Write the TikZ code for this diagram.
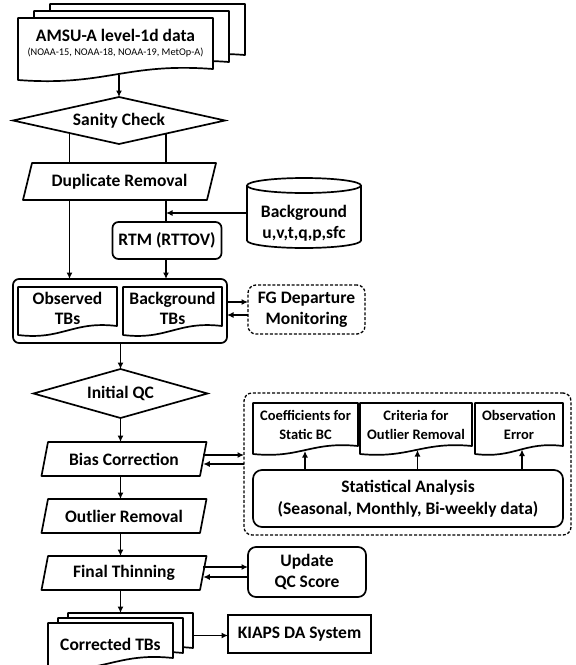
\documentclass[tikz,border=0pt]{standalone}
\usepackage{fontspec}
\setmainfont{Carlito}
\usetikzlibrary{shapes.geometric,arrows.meta,calc}
\pgfdeclarelayer{paper}
\pgfdeclarelayer{bg}
\pgfdeclarelayer{mid}
\pgfsetlayers{paper,bg,mid,main}

\newcommand{\wavedoc}[2]{%
  \draw[shp] (#1.north west) -- (#1.south west)
    .. controls ($(#1.south west)!0.45!(#1.south east)+(0,0.6*#2)$) and ($(#1.south west)!0.55!(#1.south east)+(0,-1.6*#2)$)
    .. ($(#1.south east)+(0,-#2)$) -- (#1.north east) -- cycle;}
\newcommand{\paragram}[2]{%
  \draw[shp] ($(#1.north west)+(#2,0)$) -- ($(#1.north east)+(#2,0)$) -- ($(#1.south east)+(-#2,0)$) -- ($(#1.south west)+(-#2,0)$) -- cycle;}

\tikzset{
  shp/.style={line width=1.7pt, fill=white, line join=round},
  con/.style={line width=1.7pt},
  arr/.style={line width=1.7pt, -{Latex[length=6.5pt,width=6pt]}},
  box/.style={inner sep=0pt, outer sep=0pt},
  txt/.style={font=\fontsize{17.5}{21}\selectfont\bfseries, align=center, inner sep=0pt},
  smalltxt/.style={font=\fontsize{14.5}{18.3}\selectfont\bfseries, align=center, inner sep=0pt},
  rbox/.style={draw, line width=1.7pt, fill=white, rounded corners=6pt, inner sep=0pt, outer sep=0pt, txt},
  dbox/.style={draw, line width=1.3pt, dash pattern=on 3pt off 1.8pt, rounded corners=8pt, inner sep=0pt, outer sep=0pt},
  dia/.style={diamond, draw, line width=1.7pt, fill=white, aspect=4.5, inner sep=0pt, outer sep=0pt, txt},
}

\begin{document}
\begin{tikzpicture}[x=1pt,y=-1pt]
\useasboundingbox (0,0) rectangle (576,665);
\begin{pgfonlayer}{paper}
\fill[white] (0,0) rectangle (576,665);
\end{pgfonlayer}

% ---------- AMSU stack ----------
\node[box, minimum width=195pt, minimum height=62pt] (amsu3) at (147.5,35) {};
\node[box, minimum width=195pt, minimum height=62pt] (amsu2) at (131.5,42) {};
\node[box, minimum width=195pt, minimum height=62pt] (amsu) at (115.5,49) {};
\begin{pgfonlayer}{mid}
\wavedoc{amsu3}{11}
\wavedoc{amsu2}{11}
\wavedoc{amsu}{11}
\end{pgfonlayer}
\node[txt] (amsut) at (115.5,35.5) {AMSU-A level-1d data};
\node[font=\fontsize{10.3}{12}\selectfont, inner sep=0pt] (amsus) at (115.5,52.5) {(NOAA-15, NOAA-18, NOAA-19, MetOp-A)};

% ---------- Sanity check ----------
\node[dia, minimum width=212pt, minimum height=47pt] (sanity) at (119,120.5) {Sanity Check};
\coordinate (amsuw) at ($(amsu.south)+(0,-5)$);
\begin{pgfonlayer}{bg}
\draw[arr] (sanity.north |- amsuw) -- (sanity.north);
\end{pgfonlayer}

% ---------- Duplicate removal ----------
\node[box, txt, minimum width=184pt, minimum height=37pt] (dup) at (119.5,181.5) {Duplicate Removal};
\begin{pgfonlayer}{mid}
\paragram{dup}{4.5}
\end{pgfonlayer}
\coordinate (xl) at (69.5,0);
\coordinate (xr) at (166,0);
\begin{pgfonlayer}{bg}
\draw[con] (sanity.center -| xl) -- (dup.north -| xl);
\draw[con] (sanity.center -| xr) -- (dup.north -| xr);
\end{pgfonlayer}

% ---------- Background cylinder ----------
\node[box, minimum width=114pt, minimum height=55pt] (cyl) at (304,213) {};
\begin{pgfonlayer}{mid}
\draw[shp] (cyl.north west) -- (cyl.south west)
   arc[start angle=180, end angle=360, x radius=57pt, y radius=7.5pt]
   -- (cyl.north east)
   arc[start angle=0, end angle=180, x radius=57pt, y radius=7.5pt] -- cycle;
\draw[con] (cyl.north west) arc[start angle=180, end angle=360, x radius=57pt, y radius=7.5pt];
\end{pgfonlayer}
\node[txt] (cylt) at (304,223) {Background\\u,v,t,q,p,sfc};

% ---------- RTM ----------
\node[rbox, minimum width=109pt, minimum height=37pt] (rtm) at (167,240.5) {RTM (RTTOV)};
\draw[arr] (cyl.west) -- (cyl.west -| xr);
\draw[con] (dup.south -| xr) -- (rtm.north -| xr);

% ---------- Group with observed / background TBs ----------
\node[draw, line width=1.7pt, rounded corners=6pt, box, minimum width=214pt, minimum height=64pt] (grp) at (120,311) {};
\node[box, minimum width=99pt, minimum height=48pt] (obs) at (67.5,311) {};
\node[box, minimum width=99pt, minimum height=48pt] (bgtb) at (172.5,311) {};
\begin{pgfonlayer}{mid}
\wavedoc{obs}{9}
\wavedoc{bgtb}{9}
\end{pgfonlayer}
\node[txt, font=\fontsize{17.5}{20}\selectfont\bfseries] (obst) at (67.5,308.5) {Observed\\TBs};
\node[txt, font=\fontsize{17.5}{20}\selectfont\bfseries] (bgtbt) at (172.5,308.5) {Background\\TBs};
\draw[arr] (dup.south -| xl) -- (grp.north -| xl);
\draw[arr] (rtm.south -| xr) -- (grp.north -| xr);

% ---------- FG departure ----------
\node[dbox, txt, minimum width=117pt, minimum height=49pt] (fg) at (306.5,309.5) {FG Departure\\Monitoring};
\coordinate (f1) at ($(fg.west)+(0,-7.5)$);
\coordinate (f2) at ($(fg.west)+(0,5.5)$);
\draw[arr] (f1 -| grp.east) -- (f1);
\draw[arr] (f2) -- (f2 -| grp.east);

% ---------- Initial QC ----------
\coordinate (xm) at (120.5,0);
\node[dia, minimum width=174pt, minimum height=49pt] (iqc) at (120.5,393.5) {Initial QC};
\draw[arr] (grp.south -| xm) -- (iqc.north);

% ---------- Bias / Outlier / Final ----------
\node[box, txt, minimum width=158.5pt, minimum height=34pt] (bias) at (124,459) {Bias Correction};
\node[box, txt, minimum width=158.5pt, minimum height=34pt] (outl) at (124,516) {Outlier Removal};
\node[box, txt, minimum width=158.5pt, minimum height=34pt] (fin) at (124,573) {Final Thinning};
\begin{pgfonlayer}{mid}
\paragram{bias}{3.25}
\paragram{outl}{3.25}
\paragram{fin}{3.25}
\end{pgfonlayer}
\draw[arr] (iqc.south) -- (xm |- bias.north);
\draw[arr] (xm |- bias.south) -- (xm |- outl.north);
\draw[arr] (xm |- outl.south) -- (xm |- fin.north);

% ---------- Statistics box ----------
\node[dbox, minimum width=327pt, minimum height=142pt] (stbox) at (407.5,464) {};
\node[box, minimum width=105pt, minimum height=51pt] (coef) at (305.5,428.5) {};
\node[box, minimum width=112pt, minimum height=51pt] (crit) at (416,428.5) {};
\node[box, minimum width=88pt, minimum height=51pt] (oerr) at (519,428.5) {};
\begin{pgfonlayer}{mid}
\wavedoc{coef}{8}
\wavedoc{crit}{8}
\wavedoc{oerr}{8}
\end{pgfonlayer}
\node[smalltxt] (coeft) at (305.5,425) {Coefficients for\\Static BC};
\node[smalltxt] (critt) at (416,425) {Criteria for\\Outlier Removal};
\node[smalltxt] (oerrt) at (519,425) {Observation\\Error};
\node[rbox, rounded corners=9pt, minimum width=310pt, minimum height=57pt, font=\fontsize{17.5}{22}\selectfont\bfseries] (stat) at (408,498.5) {Statistical Analysis\\(Seasonal, Monthly, Bi-weekly data)};
\coordinate (ua) at ($(coef.south)+(-0.5,-3)$);
\coordinate (ub) at ($(crit.south)+(1.5,-4)$);
\coordinate (uc) at ($(oerr.south)+(3,-4.5)$);
\draw[arr] (stat.north -| ua) -- (ua);
\draw[arr] (stat.north -| ub) -- (ub);
\draw[arr] (stat.north -| uc) -- (uc);

\coordinate (b1) at ($(bias.east)+(0,-4)$);
\coordinate (b2) at ($(bias.east)+(0,5)$);
\draw[arr] (b1) -- (b1 -| stbox.west);
\draw[arr] (b2 -| stbox.west) -- (b2);

% ---------- Update QC ----------
\node[rbox, rounded corners=8pt, minimum width=118pt, minimum height=50pt] (upd) at (307,572) {Update\\QC Score};
\coordinate (u1) at ($(fin.east)+(0,-6)$);
\coordinate (u2) at ($(fin.east)+(0,4)$);
\draw[arr] (u1) -- (u1 -| upd.west);
\draw[arr] (u2 -| upd.west) -- (u2);

% ---------- Corrected TBs stack ----------
\node[box, minimum width=125pt, minimum height=45pt] (cor3) at (130.5,635.5) {};
\node[box, minimum width=125pt, minimum height=45pt] (cor2) at (120.5,640.5) {};
\node[box, minimum width=125pt, minimum height=45pt] (cor) at (110.5,645.5) {};
\begin{pgfonlayer}{mid}
\wavedoc{cor3}{10}
\wavedoc{cor2}{10}
\wavedoc{cor}{10}
\end{pgfonlayer}
\node[txt] (cort) at (110.5,644) {Corrected TBs};
\draw[arr] (xm |- fin.south) -- (xm |- cor3.north);

% ---------- KIAPS ----------
\node[draw, line width=1.7pt, fill=white, box, txt, minimum width=143pt, minimum height=38pt] (kiaps) at (299.5,634) {KIAPS DA System};
\draw[arr] (cor3.east) -- (cor3.east -| kiaps.west);
\end{tikzpicture}
\end{document}
